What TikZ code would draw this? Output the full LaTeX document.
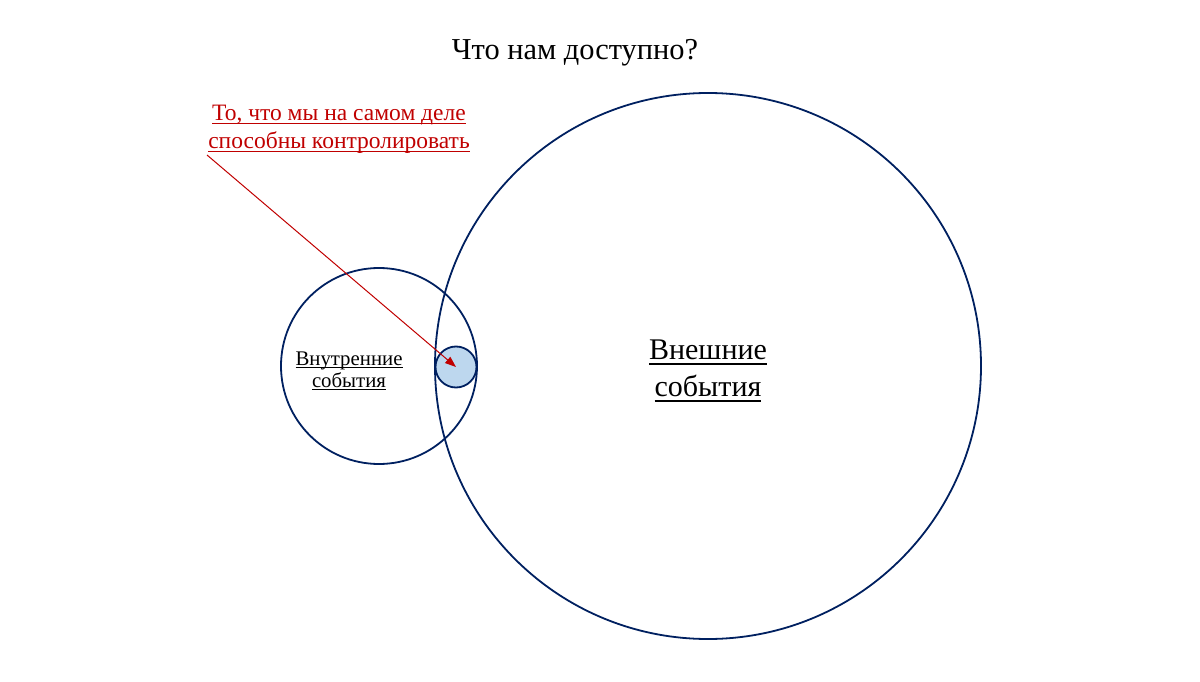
\documentclass[tikz,border=0pt]{standalone}
\usepackage{fontspec}
\setmainfont{Liberation Serif}
\usepackage{tikz}
\usetikzlibrary{arrows.meta}
\definecolor{navy}{HTML}{002060}
\definecolor{ctrlred}{HTML}{C00000}
\definecolor{ownfill}{HTML}{BDD7EE}
% underline at a fixed depth, like the slide does
\newcommand\ulin[1]{{\setbox0\hbox{#1}\rlap{\rule[-0.16em]{\wd0}{0.06em}}\box0}}

\begin{document}
\begin{tikzpicture}[x=1pt, y=-1pt,
    eventnode/.style={circle, draw=navy, line width=1.8pt, inner sep=0pt},
    ownnode/.style={circle, draw=navy, fill=ownfill, line width=1.8pt, inner sep=0pt, minimum size=41pt},
    textnode/.style={align=center, inner sep=0pt}
]
\useasboundingbox (0,0) rectangle (1200,682);
\node[anchor=base](title) at (575,60){\fontsize{30.4}{36}\selectfont Что нам доступно?};
\node[eventnode, minimum size=546pt](outer) at (708,366){};
\node[eventnode, minimum size=196pt](inner) at (379,366){};
\node[ownnode](own) at (456,367){};
\node[textnode, font=\fontsize{30}{37}\selectfont](outertext) at (708,371){\ulin{Внешние}\\\ulin{события}};
\node[textnode, font=\fontsize{20.8}{22}\selectfont](innertext) at (349,371){\ulin{Внутренние}\\\ulin{события}};
\node[textnode, text=ctrlred, font=\fontsize{23.5}{28}\selectfont](ctrl) at (339,129){\ulin{То, что мы на самом деле}\\\ulin{способны контролировать}};
\coordinate (ctrlfrom) at (207,155);
\draw[ctrlred, line width=1pt, -{Triangle[length=11pt, width=8pt]}] (ctrlfrom) -- (own.center);
\end{tikzpicture}
\end{document}
